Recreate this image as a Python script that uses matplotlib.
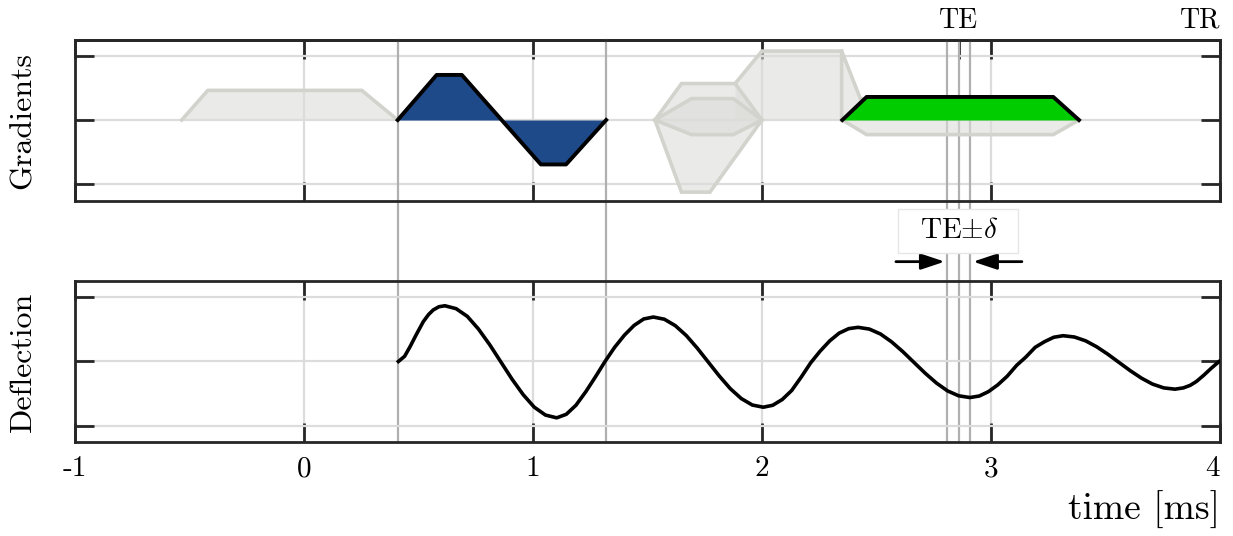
import numpy as np
import matplotlib
matplotlib.use('Agg')
import matplotlib.pyplot as plt
from matplotlib.patches import Rectangle
from matplotlib.transforms import blended_transform_factory

plt.rcParams['font.family'] = ['cmr10', 'DejaVu Serif']
plt.rcParams['mathtext.fontset'] = 'cm'
plt.rcParams['axes.unicode_minus'] = False

# ── Timing (ms) ────────────────────────────────────────────────────────────────
TE    = 2.86
DELTA = 0.05
TR    = 4.0
PULSE_START = 0.41
PULSE_END   = 1.32

x_ticks      = [-1, 0, 1, 2, 3, 4]
x_ticklabels = ['-1', '0', '1', '2', '3', '4']
y_ticks      = [-1, 0, 1]

# ── Gradient waveforms ────────────────────────────────────────────────────────
# other-axis / alternative gradients shown in grey
grey_waveforms = [
    ([-0.533, -0.419, 0.253, 0.41],           [0, 0.46, 0.46, 0]),
    ([1.533, 1.649, 1.883, 2.0],              [0, 0.566, 0.566, 0]),
    ([1.533, 1.693, 1.875, 2.0],              [0, 0.333, 0.333, 0]),
    ([1.533, 1.693, 1.875, 2.0],              [0, -0.227, -0.227, 0]),
    ([1.533, 1.649, 1.773, 2.0],              [0, -1.12, -1.12, 0]),
    ([1.883, 2.0, 2.348, 2.348],              [0.566, 1.07, 1.07, 0]),
    ([2.348, 2.43, 3.272, 3.384],             [1.07, 0.33, 0.33, 0]),
    ([2.351, 2.457, 3.272, 3.384],            [0, -0.227, -0.227, 0]),
]

# bipolar gradient during the pulse
blue_t = [0.41, 0.58, 0.69, 1.035, 1.145, 1.32]
blue_g = [0, 0.70, 0.70, -0.69, -0.69, 0]

# readout gradient
green_t = [2.351, 2.457, 3.272, 3.384]
green_g = [0, 0.358, 0.358, 0]

# ── Deflection ────────────────────────────────────────────────────────────────
defl_t = [0.413, 0.44, 0.464, 0.49, 0.522, 0.545, 0.565, 0.59, 0.616,
          0.665, 0.714, 0.762, 0.811, 0.860, 0.909, 0.958, 1.006, 1.055, 1.104,
          1.146, 1.188, 1.231, 1.273, 1.315, 1.357, 1.400, 1.442, 1.484, 1.526,
          1.574, 1.622, 1.670, 1.718, 1.766, 1.814, 1.862, 1.910, 1.958, 2.006,
          2.047, 2.089, 2.130, 2.172, 2.213, 2.254, 2.296, 2.337, 2.379, 2.420,
          2.469, 2.518, 2.566, 2.615, 2.664, 2.713, 2.762, 2.810, 2.859, 2.908,
          2.949, 2.989, 3.030, 3.071, 3.112, 3.152, 3.193, 3.234, 3.274, 3.315,
          3.364, 3.413, 3.461, 3.510, 3.559, 3.608, 3.657, 3.705, 3.754, 3.803,
          3.84, 3.87, 3.897, 3.93, 3.96, 3.996]
defl_y = [0.0, 0.08, 0.23, 0.41, 0.62, 0.73, 0.80, 0.85, 0.865,
          0.82, 0.70, 0.506, 0.264, -0.005, -0.274, -0.516, -0.709, -0.832, -0.875,
          -0.82, -0.68, -0.47, -0.24, 0.0, 0.22, 0.41, 0.56, 0.66, 0.69,
          0.656, 0.556, 0.402, 0.206, -0.01, -0.226, -0.422, -0.576, -0.676, -0.71,
          -0.68, -0.59, -0.45, -0.24, -0.02, 0.16, 0.32, 0.44, 0.51, 0.53,
          0.503, 0.426, 0.305, 0.153, -0.015, -0.183, -0.335, -0.456, -0.533, -0.56,
          -0.536, -0.468, -0.362, -0.228, -0.06, 0.068, 0.22, 0.308, 0.376, 0.40,
          0.38, 0.321, 0.229, 0.113, -0.015, -0.143, -0.259, -0.351, -0.41, -0.43,
          -0.41, -0.37, -0.31, -0.21, -0.11, 0.0]

# ── Style ─────────────────────────────────────────────────────────────────────
SPINE   = '#262626'
GRID    = '#dcdcdc'
MARKER  = '#b0b0b0'
G_FILL  = '#dcddd9'
G_EDGE  = '#d2d3cd'
BLUE    = '#1f4a8a'
GREEN   = '#00cc00'


def style_axes(ax):
    ax.set_xlim(-1, 4)
    ax.set_ylim(-1.25, 1.25)
    ax.set_xticks(x_ticks)
    ax.set_yticks(y_ticks)
    ax.set_yticklabels([])
    ax.grid(True, color=GRID, lw=1.6)
    ax.set_axisbelow(True)
    ax.tick_params(direction='in', length=14, width=2, color=SPINE,
                   top=True, right=True, labelsize=21, pad=10)
    for s in ax.spines.values():
        s.set_linewidth(2)
        s.set_color(SPINE)


fig = plt.figure(figsize=(12.33, 5.36), dpi=100)
ax1 = fig.add_axes([0.0606, 0.6259, 0.9289, 0.3004])
ax2 = fig.add_axes([0.0606, 0.1754, 0.9289, 0.3004])
ax2.patch.set_facecolor('none')

style_axes(ax1)
style_axes(ax2)
ax1.set_xticklabels([])
ax2.set_xticklabels(x_ticklabels)
ax2.get_xticklabels()[-1].set_ha('right')

# vertical markers running through both panels
vtrans = blended_transform_factory(ax1.transData, fig.transFigure)
for xv in [PULSE_START, PULSE_END, TE - DELTA, TE, TE + DELTA]:
    ax1.plot([xv, xv], [0.1754, 0.9263], transform=vtrans, color=MARKER,
             lw=1.6, clip_on=False, zorder=1)

# gradients
for t, g in grey_waveforms:
    ax1.fill_between(t, g, 0, color=G_FILL, alpha=0.6, lw=0, zorder=2)
for t, g in grey_waveforms:
    ax1.plot(t, g, color=G_EDGE, lw=2.6, solid_joinstyle='miter', zorder=2.5)

ax1.fill_between(blue_t, blue_g, 0, color=BLUE, lw=0, zorder=3)
ax1.plot(blue_t, blue_g, color='black', lw=2.8, zorder=3.5)
ax1.fill_between(green_t, green_g, 0, color=GREEN, lw=0, zorder=3)
ax1.plot(green_t, green_g, color='black', lw=2.8, zorder=3.5)

# TE / TR on the top axis
sec = ax1.secondary_xaxis('top')
sec.set_xticks([TE, TR], labels=['TE', 'TR'])
sec.tick_params(direction='in', length=14, width=2, color=SPINE,
                labelsize=20, pad=4)
sec.get_xticklabels()[-1].set_ha('right')
sec.spines['top'].set_linewidth(2)
sec.spines['top'].set_color(SPINE)

# deflection
ax2.plot(defl_t, defl_y, color='black', lw=2.6, zorder=3)

# TE ± delta annotation in the gap between panels
ax2.add_patch(Rectangle((2.594, 1.69), 0.524, 0.685, facecolor='white',
                        edgecolor='#e6e6e6', lw=1, clip_on=False, zorder=5))
ax2.text(TE, 2.03, r'TE$\pm\delta$', ha='center', va='center', fontsize=21,
         clip_on=False, zorder=6)
head = dict(arrowstyle='-|>,head_length=0.9,head_width=0.3', color='black',
            lw=2, mutation_scale=16, shrinkA=0, shrinkB=0)
ax2.annotate('', xy=(TE - DELTA - 0.012, 1.55), xytext=(2.585, 1.55),
             arrowprops=head, annotation_clip=False)
ax2.annotate('', xy=(TE + DELTA + 0.012, 1.55), xytext=(3.135, 1.55),
             arrowprops=head, annotation_clip=False)

ax1.set_ylabel('Gradients', fontsize=23)
ax2.set_ylabel('Deflection', fontsize=23)
ax1.yaxis.set_label_coords(-0.033, 0.5)
ax2.yaxis.set_label_coords(-0.033, 0.5)
ax2.set_xlabel('time [ms]', fontsize=27, loc='right', labelpad=6)

fig.savefig('out.png', dpi=100)
